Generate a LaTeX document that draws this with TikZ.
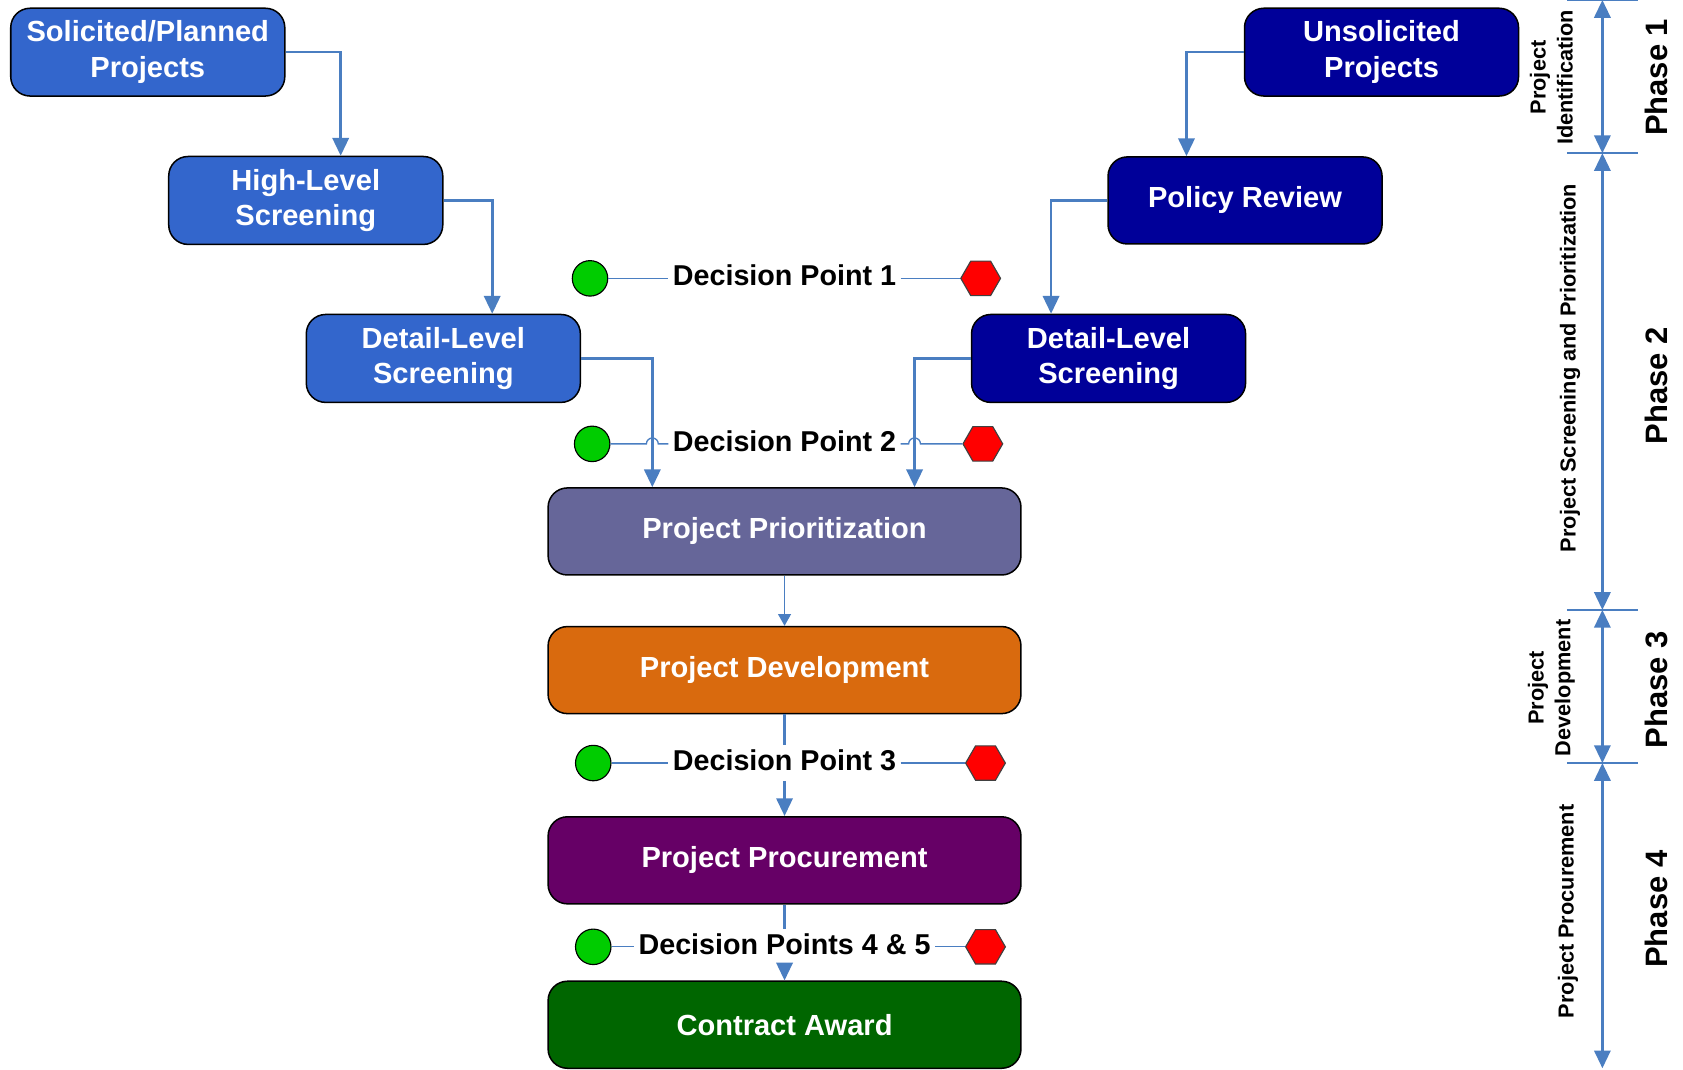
\documentclass[tikz,border=0pt]{standalone}
\usepackage{fontspec}
\setmainfont{Liberation Sans}
\usepackage{xcolor}
\usepackage{tikz}
\usetikzlibrary{arrows.meta, shapes.geometric, calc}

\definecolor{soli}{RGB}{51,102,204}
\definecolor{unsoli}{RGB}{0,0,153}
\definecolor{prio}{RGB}{102,102,153}
\definecolor{devel}{RGB}{217,106,14}
\definecolor{procu}{RGB}{102,0,102}
\definecolor{award}{RGB}{0,102,0}
\definecolor{lineblue}{RGB}{74,126,193}
\definecolor{dpgreen}{RGB}{0,204,0}
\definecolor{dpred}{RGB}{255,0,0}

\newcommand{\boxfnt}{\bfseries\fontsize{7.7}{9.4}\selectfont}
\newcommand{\dpfnt}{\bfseries\fontsize{7.6}{9}\selectfont}
\newcommand{\phasefnt}{\bfseries\fontsize{8.2}{10}\selectfont}
\newcommand{\sidefnt}{\bfseries\fontsize{5.75}{7.1}\selectfont}

\begin{document}
\begin{tikzpicture}[
        box/.style = {rectangle, rounded corners = 0.18cm, draw = black, line width = 0.4pt, minimum width = 2.55cm, minimum height = 0.81cm, text = white, align = center, font = \boxfnt},
        wide/.style = {box, minimum width = 4.4cm},
        conn/.style = {draw = lineblue, line width = 0.7pt, -{Triangle[width = 4.3pt, length = 4.7pt]}},
        trunk/.style = {draw = lineblue, line width = 0.7pt},
        thinconn/.style = {draw = lineblue, line width = 0.35pt, -{Triangle[width = 3.4pt, length = 3.1pt]}},
        dpline/.style = {draw = lineblue, line width = 0.35pt},
        go/.style = {circle, draw = black, line width = 0.3pt, fill = dpgreen, minimum size = 0.33cm, inner sep = 0pt},
        stop/.style = {regular polygon, regular polygon sides = 6, draw = black!75, line width = 0.3pt, fill = dpred, minimum size = 0.37cm, inner sep = 0pt},
        dptext/.style = {fill = white, inner sep = 1pt, text height = 5.6pt, text depth = 1.6pt, font = \dpfnt},
        span/.style = {draw = lineblue, line width = 0.7pt, {Triangle[width = 4.3pt, length = 4.7pt]}-{Triangle[width = 4.3pt, length = 4.7pt]}},
        tick/.style = {draw = lineblue, line width = 0.7pt},
        phase/.style = {rotate = 90, font = \phasefnt, inner sep = 0pt},
        side/.style = {rotate = 90, align = center, font = \sidefnt, inner sep = 0pt}
    ]
        \useasboundingbox (0, 0) rectangle (15.66, -9.95);

        % project boxes
        \node (1) at (1.375, -0.485) [box, fill = soli] {Solicited/Planned\\Projects};
        \node (2) at (2.845, -1.865) [box, fill = soli] {High-Level\\Screening};
        \node (3) at (4.125, -3.335) [box, fill = soli] {Detail-Level\\Screening};
        \node (4) at (12.855, -0.485) [box, fill = unsoli] {Unsolicited\\Projects};
        \node (5) at (11.585, -1.865) [box, fill = unsoli] {Policy Review};
        \node (6) at (10.315, -3.335) [box, fill = unsoli] {Detail-Level\\Screening};
        \node (7) at (7.30, -4.945) [wide, fill = prio] {Project Prioritization};
        \node (8) at (7.30, -6.235) [wide, fill = devel] {Project Development};
        \node (9) at (7.30, -8.005) [wide, fill = procu] {Project Procurement};
        \node (10) at (7.30, -9.535) [wide, fill = award] {Contract Award};

        % decision points
        \node (g1) at (5.49, -2.59) [go] {};
        \node (d1) at (7.30, -2.59) [dptext] {Decision Point 1};
        \node (r1) at (9.125, -2.59) [stop] {};
        \node (g2) at (5.51, -4.13) [go] {};
        \node (d2) at (7.30, -4.13) [dptext] {Decision Point 2};
        \node (r2) at (9.145, -4.13) [stop] {};
        \node (g3) at (5.52, -7.10) [go] {};
        \node (d3) at (7.30, -7.10) [dptext] {Decision Point 3};
        \node (r3) at (9.17, -7.10) [stop] {};
        \node (g4) at (5.52, -8.81) [go] {};
        \node (d4) at (7.30, -8.81) [dptext] {Decision Points 4 \& 5};
        \node (r4) at (9.17, -8.81) [stop] {};

        \draw [conn] (1.east) -| ([xshift = 0.325cm]2.north);
        \draw [conn] (2.east) -| ([xshift = 0.455cm]3.north);
        \draw [conn] (3.east) -| ([xshift = -1.23cm]7.north);
        \draw [conn] (4.west) -| ([xshift = -0.545cm]5.north);
        \draw [conn] (5.west) -| ([xshift = -0.535cm]6.north);
        \draw [conn] (6.west) -| ([xshift = 1.21cm]7.north);
        \draw [thinconn] (7) -- (8);
        \draw [trunk] (8) -- (d3);
        \draw [conn] (d3) -- (9);
        \draw [trunk] (9) -- (d4);
        \draw [conn] (d4) -- (10);

        \draw [dpline] (g1) -- (d1);
        \draw [dpline] (d1) -- (r1);
        \draw [dpline] (g2) -- ($(7.north |- g2) + (-1.285, 0)$) arc [start angle = 180, end angle = 0, radius = 0.055] -- (d2);
        \draw [dpline] (d2) -- ($(7.north |- r2) + (1.155, 0)$) arc [start angle = 180, end angle = 0, radius = 0.055] -- (r2);
        \draw [dpline] (g3) -- (d3);
        \draw [dpline] (d3) -- (r3);
        \draw [dpline] (g4) -- (d4);
        \draw [dpline] (d4) -- (r4);

        % phases
        \coordinate (a0) at (14.91, 0);
        \coordinate (a1) at (14.91, -1.425);
        \coordinate (a2) at (14.91, -5.675);
        \coordinate (a3) at (14.91, -7.10);
        \coordinate (a4) at (14.91, -9.94);
        \draw [tick] ([xshift = -0.33cm]a0) -- ([xshift = 0.33cm]a0);
        \draw [tick] ([xshift = -0.33cm]a1) -- ([xshift = 0.33cm]a1);
        \draw [tick] ([xshift = -0.33cm]a2) -- ([xshift = 0.33cm]a2);
        \draw [tick] ([xshift = -0.33cm]a3) -- ([xshift = 0.33cm]a3);
        \draw [span] (a0) -- (a1);
        \draw [span] (a1) -- (a2);
        \draw [span] (a2) -- (a3);
        \draw [span] (a3) -- (a4);

        \node (l1) at (14.435, -0.72) [side] {Project\\Identification};
        \node (l2) at (14.61, -3.425) [side] {Project Screening and Prioritization};
        \node (l3) at (14.435, -6.40) [side] {Project\\Development};
        \node (l4) at (14.59, -8.48) [side] {Project Procurement};
        \node (p1) at (15.41, -0.72) [phase] {Phase 1};
        \node (p2) at (15.41, -3.59) [phase] {Phase 2};
        \node (p3) at (15.41, -6.42) [phase] {Phase 3};
        \node (p4) at (15.41, -8.46) [phase] {Phase 4};
    \end{tikzpicture}
\end{document}
